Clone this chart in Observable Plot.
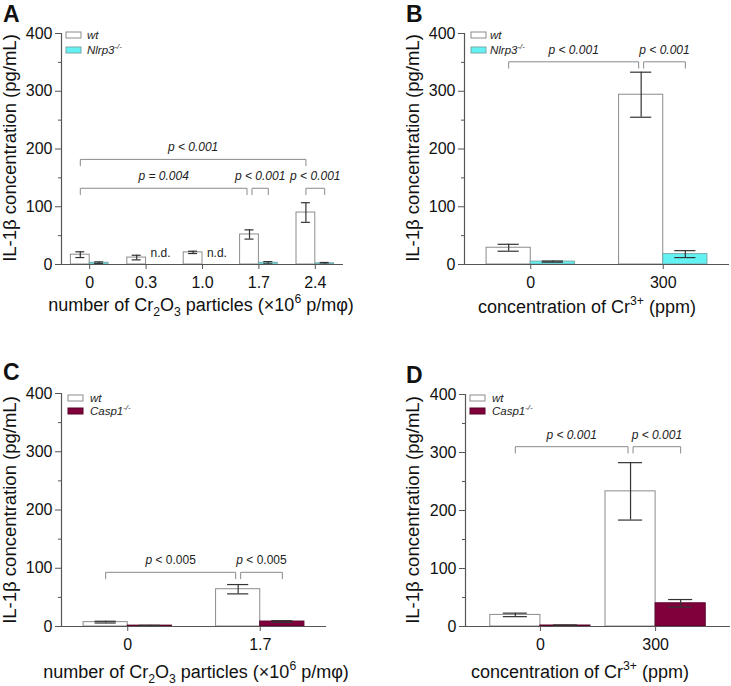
<!DOCTYPE html>
<html><head><meta charset="utf-8">
<script src="https://cdn.jsdelivr.net/npm/d3@7"></script>
<script src="https://cdn.jsdelivr.net/npm/@observablehq/plot@0.6"></script>
<style>
body{margin:0;background:#fff;font-family:"Liberation Sans",Arial,sans-serif;}
#root{position:relative;width:731px;height:686px;overflow:hidden;background:#fff}
#root svg{position:absolute;overflow:visible}
</style></head><body><div id="root"></div>
<script>
// ---------- shared axis ticks ----------
const yTicks = [0, 100, 200, 300, 400];
const yMinorTicks = [50, 150, 250, 350];

// ---------- Panel A ----------
const catsA = ["0", "0.3", "1.0", "1.7", "2.4"];
const wtA = [17, 12, 21, 52, 90];
const wtErrA = [5, 4, 2, 8, 17];
const nlrp3A = [3, null, null, 3, 2];
const nlrp3ErrA = [1.5, null, null, 2, 1.5];
const ndA = ["0.3", "1.0"];
const bracketsA = [
  ["0", "wt", "2.4", "wt", 182, "p < 0.001"],
  ["0", "wt", "1.7", "wt", 132, "p = 0.004"],
  ["1.7", "wt", "1.7", "ko", 132, "p < 0.001"],
  ["2.4", "wt", "2.4", "ko", 132, "p < 0.001"]
];

// ---------- Panel B ----------
const catsB = ["0", "300"];
const wtB = [29, 294];
const wtErrB = [6, 39];
const nlrp3B = [5, 18];
const nlrp3ErrB = [1, 6];
const bracketsB = [
  ["0", "wt", "300", "wt", 351, "p < 0.001"],
  ["300", "wt", "300", "ko", 351, "p < 0.001"]
];

// ---------- Panel C ----------
const catsC = ["0", "1.7"];
const wtC = [7.5, 64];
const wtErrC = [1.5, 8];
const casp1C = [1.5, 8.5];
const casp1ErrC = [0.5, 1.5];
const bracketsC = [
  ["0", "wt", "1.7", "wt", 93, "p < 0.005"],
  ["1.7", "wt", "1.7", "ko", 93, "p < 0.005"]
];

// ---------- Panel D ----------
const catsD = ["0", "300"];
const wtD = [20, 233];
const wtErrD = [3, 49.5];
const casp1D = [1.7, 40];
const casp1ErrD = [1, 6.5];
const bracketsD = [
  ["0", "wt", "300", "wt", 310, "p < 0.001"],
  ["300", "wt", "300", "ko", 310, "p < 0.001"]
];

const CYAN = "#62f2f4";
const MAROON = "#80003c";
const AXIS = "#555";
const FONT = "Liberation Sans, Arial, sans-serif";

const xLabelCr2O3 = [["number of Cr"], ["2", "sub"], ["O"], ["3", "sub"], [" particles (×10"], ["6", "sup"], [" p/mφ)"]];
const xLabelCr3 = [["concentration of Cr"], ["3+", "sup"], [" (ppm)"]];
const yLabel = [["IL-1β concentration (pg/mL)"]];

function rich(sel, parts, size) {
  let off = 0;
  parts.forEach(([t, kind, ital]) => {
    const ts = sel.append("tspan").text(t);
    let target = 0;
    if (kind === "sub") { target = size * 0.3; ts.attr("font-size", size * 0.68); }
    else if (kind === "sup") { target = -size * 0.42; ts.attr("font-size", size * 0.68); }
    ts.attr("dy", target - off);
    off = target;
    if (ital) ts.attr("font-style", "italic");
  });
}

function makePanel(cfg) {
  const {cats, wt, wtErr, ko, koErr, nd = [], brackets, barW, xDomain, koFill, koStroke,
    italicAll, width, height, ml, mr, mt, mb, left, top} = cfg;
  const rows = [];
  cats.forEach((c, i) => {
    rows.push({cat: c, i, s: "wt", v: wt[i], e: wtErr[i]});
    if (ko[i] != null) rows.push({cat: c, i, s: "ko", v: ko[i], e: koErr[i]});
  });
  const x1 = d => d.s === "wt" ? d.i - barW : d.i;
  const x2 = d => d.s === "wt" ? d.i : d.i + barW;
  const xc = d => (x1(d) + x2(d)) / 2;
  const capHalf = barW * 0.24;
  const frameW = width - ml - mr;
  const unitPerPx = (xDomain[1] - xDomain[0]) / frameW;
  const gap = 2.5 * unitPerPx;
  const legU = 11;
  const centerOf = (cat, s) => { const i = cats.indexOf(cat); return s === "wt" ? i - barW / 2 : i + barW / 2; };
  const bObjs = brackets.map(([c1, s1, c2, s2, y, label], k) => ({k, a: centerOf(c1, s1), b: centerOf(c2, s2), y, label, ka: c1 + s1, kb: c2 + s2}));
  bObjs.forEach(b => {
    if (bObjs.some(o => o !== b && o.y === b.y && o.kb === b.ka)) b.a += gap;
    if (bObjs.some(o => o !== b && o.y === b.y && o.ka === b.kb)) b.b -= gap;
  });
  const bPts = bObjs.flatMap(b => [
    {k: b.k, x: b.a, y: b.y - legU}, {k: b.k, x: b.a, y: b.y},
    {k: b.k, x: b.b, y: b.y}, {k: b.k, x: b.b, y: b.y - legU}]);
  const ndRows = nd.map(c => ({i: cats.indexOf(c)}));
  const wtRows = rows.filter(d => d.s === "wt");
  const koRows = rows.filter(d => d.s === "ko");

  const svg = Plot.plot({
    width, height, marginLeft: ml, marginRight: mr, marginTop: mt, marginBottom: mb,
    x: {domain: xDomain},
    y: {domain: [0, 400]},
    style: {fontFamily: FONT, fontSize: "16px", color: "#111", background: "transparent"},
    marks: [
      Plot.rectY(wtRows, {x1, x2, y1: 0, y2: "v", fill: "white", stroke: "#8c8c8c", strokeWidth: 1}),
      Plot.rectY(koRows, {x1, x2, y1: 0, y2: "v", fill: koFill, stroke: koStroke, strokeWidth: 1}),
      Plot.ruleX(rows, {x: xc, y1: d => d.v - d.e, y2: d => d.v + d.e, stroke: "#333", strokeWidth: 1.2}),
      Plot.ruleY(rows, {y: d => d.v + d.e, x1: d => xc(d) - capHalf, x2: d => xc(d) + capHalf, stroke: "#333", strokeWidth: 1.2}),
      Plot.ruleY(rows, {y: d => d.v - d.e, x1: d => xc(d) - capHalf, x2: d => xc(d) + capHalf, stroke: "#333", strokeWidth: 1.2}),
      Plot.line(bPts, {x: "x", y: "y", z: "k", stroke: "#8a8a8a", strokeWidth: 1}),
      Plot.text(bObjs, {x: d => (d.a + d.b) / 2, y: "y", text: "label", dy: -12, fontSize: 12,
        fontStyle: italicAll ? "italic" : "normal", fill: "#222"}),
      Plot.text(ndRows, {x: d => d.i + barW / 2, frameAnchor: "bottom", text: () => "n.d.", dy: -8, dx: 5, fontSize: 12, fill: "#222"}),
      Plot.ruleY([0], {stroke: AXIS, strokeWidth: 1.2}),
      Plot.ruleX([xDomain[0]], {stroke: AXIS, strokeWidth: 1.2}),
      Plot.axisY({ticks: yTicks, tickSize: 6, tickPadding: 3, label: null, fontSize: 16, stroke: AXIS}),
      Plot.axisY({ticks: yMinorTicks, tickSize: 3, tickFormat: () => "", label: null, stroke: AXIS}),
      Plot.axisX({ticks: cats.map((c, i) => i), tickFormat: i => cats[i], tickSize: 5, tickPadding: 7, label: null, fontSize: 16, stroke: AXIS})
    ]
  });
  svg.style.left = left + "px";
  svg.style.top = top + "px";
  document.getElementById("root").appendChild(svg);
  const s = d3.select(svg);

  if (!italicAll) {
    s.selectAll("text").each(function () {
      const t = this.textContent;
      if (/^p [<=>]/.test(t) && this.children.length === 0) {
        const el = d3.select(this);
        el.text(null);
        el.append("tspan").attr("font-style", "italic").text("p");
        el.append("tspan").text(t.slice(1));
      }
    });
  }

  // panel letter
  s.append("text").attr("x", cfg.letterX).attr("y", cfg.letterY).attr("text-anchor", "start")
    .attr("font-family", FONT).attr("font-size", 23).attr("font-weight", "bold").attr("fill", "#111")
    .text(cfg.letter);
  // x label
  const xl = s.append("text").attr("x", cfg.xlX).attr("y", cfg.xlY).attr("text-anchor", "middle")
    .attr("font-family", FONT).attr("font-size", 18).attr("fill", "#111");
  rich(xl, cfg.xLabel, 18);
  // y label
  s.append("text").attr("transform", `translate(${cfg.ylX},${cfg.ylY}) rotate(-90)`)
    .attr("text-anchor", "middle").attr("dy", "0.35em")
    .attr("font-family", FONT).attr("font-size", 18.5).attr("fill", "#111").text(yLabel[0][0]);
  // legend
  const lg = s.append("g").attr("font-family", FONT).attr("font-size", 11.5).attr("fill", "#222").attr("text-anchor", "start");
  const items = [["wt", "white", "#8c8c8c", [["wt", "", true]]], [cfg.koName, koFill, koStroke, [[cfg.koName, "", true], ["-/-", "sup", true]]]];
  items.forEach(([name, f, st, parts], j) => {
    const cy = cfg.legY + j * cfg.legDy;
    lg.append("rect").attr("x", cfg.legX).attr("y", cy - 3).attr("width", 15).attr("height", 6)
      .attr("fill", f).attr("stroke", st).attr("stroke-width", 1);
    const t = lg.append("text").attr("x", cfg.legX + cfg.legTx).attr("y", cy + 4).attr("text-anchor", "start");
    rich(t, parts, 11.5);
  });
}

makePanel({cats: catsA, wt: wtA, wtErr: wtErrA, ko: nlrp3A, koErr: nlrp3ErrA, nd: ndA, brackets: bracketsA,
  barW: 1 / 3, xDomain: [-0.5, 4.5], koFill: CYAN, koStroke: "#7aa8aa", italicAll: true,
  width: 366, height: 330, ml: 61, mr: 23, mt: 33, mb: 66, left: 0, top: 0,
  letter: "A", letterX: 3, letterY: 22, xLabel: xLabelCr2O3, xlX: 201, xlY: 311, ylX: 10, ylY: 148,
  koName: "Nlrp3", legX: 66, legY: 35, legDy: 15, legTx: 21});

makePanel({cats: catsB, wt: wtB, wtErr: wtErrB, ko: nlrp3B, koErr: nlrp3ErrB, brackets: bracketsB,
  barW: 1 / 3, xDomain: [-0.5, 1.5], koFill: CYAN, koStroke: "#7aa8aa", italicAll: true,
  width: 365, height: 330, ml: 98, mr: 2, mt: 33, mb: 66, left: 366, top: 0,
  letter: "B", letterX: 40, letterY: 22, xLabel: xLabelCr3, xlX: 221, xlY: 313, ylX: 47, ylY: 148,
  koName: "Nlrp3", legX: 105, legY: 35, legDy: 15, legTx: 19});

makePanel({cats: catsC, wt: wtC, wtErr: wtErrC, ko: casp1C, koErr: casp1ErrC, brackets: bracketsC,
  barW: 1 / 3, xDomain: [-0.5, 1.5], koFill: MAROON, koStroke: "#5a0028", italicAll: false,
  width: 366, height: 356, ml: 61, mr: 40, mt: 63, mb: 60, left: 0, top: 330,
  letter: "C", letterX: 3, letterY: 50, xLabel: xLabelCr2O3, xlX: 196, xlY: 348, ylX: 10, ylY: 180,
  koName: "Casp1", legX: 68, legY: 68, legDy: 13, legTx: 22});

makePanel({cats: catsD, wt: wtD, wtErr: wtErrD, ko: casp1D, koErr: casp1ErrD, brackets: bracketsD,
  barW: 0.435, xDomain: [-0.65, 1.65], koFill: MAROON, koStroke: "#5a0028", italicAll: true,
  width: 365, height: 356, ml: 99, mr: 1, mt: 64, mb: 60, left: 366, top: 330,
  letter: "D", letterX: 40, letterY: 53, xLabel: xLabelCr3, xlX: 214, xlY: 348, ylX: 47, ylY: 180,
  koName: "Casp1", legX: 104, legY: 68, legDy: 13, legTx: 22});
</script>
</body></html>
